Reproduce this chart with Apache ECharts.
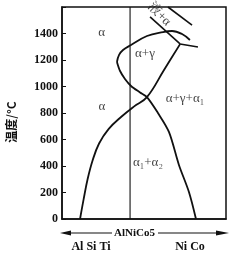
<!DOCTYPE html>
<html><head><meta charset="utf-8">
<script src="https://cdn.jsdelivr.net/npm/echarts@6/dist/echarts.min.js"></script>
<style>html,body{margin:0;padding:0;background:#fff}#c{width:252px;height:264px}</style>
</head><body><div id="c"></div>
<script>
// Temperature axis (°C)
const yTicks = [0, 200, 400, 600, 800, 1000, 1200, 1400];
const yMax = 1600;
// composition axis: 0 = Al Si Ti side, 100 = Ni Co side
const alloyX = 41.5; // AlNiCo5
// boundary curves [composition, temperature]
const curveAlphaLower = [[11,0],[13.2,150],[15.6,300],[18.6,440],[22.6,570],[28.5,680],[36,770],[44,850],[51.8,920],[62.2,1125],[72,1320]];
const curveMiscibility = [[33.5,1185],[35.4,1117],[38.4,1057],[42.1,1004],[47.6,955],[51.8,920],[58.5,800],[65.2,657],[71.3,408],[77.4,204],[81.7,0]];
const curveGammaTop = [[33.5,1185],[34.8,1238],[37.2,1275],[42.1,1313],[51.8,1381],[61.6,1411],[67.1,1419],[73.2,1396],[78,1351]];
const curveSolidus = [[53.7,1525],[72,1321]];
const curveBranch = [[72,1321],[82.9,1298]];
const curveLiquidus = [[64.6,1600],[79.3,1464]];
// region labels
const regionNames = ['α', 'α', 'α+γ', 'α+γ+α₁', 'α₁+α₂', '液+α'];
const regionX = [24.2, 24.4, 50.6, 75, 52.4, 59.3];
const regionY = [1404, 845, 1245, 906, 423, 1545];
const regionRot = [0, 0, 0, 0, 0, -45];

const FONT = '"Liberation Serif", "Noto Serif CJK SC", "Noto Sans CJK SC", serif';
const chart = echarts.init(document.getElementById('c'), null, {renderer: 'canvas'});
const lineSeries = (data, smooth, w) => ({
  type: 'line', data, smooth, symbol: 'none', silent: true, animation: false,
  lineStyle: {color: '#111', width: w}
});
chart.setOption({
  animation: false,
  backgroundColor: '#fff',
  grid: {left: 62, right: 26, top: 7, bottom: 45, show: true, borderColor: '#111', borderWidth: 1.5, containLabel: false, outerBoundsMode: 'none'},
  xAxis: {type: 'value', min: 0, max: 100, axisLabel: {show: false}, axisTick: {show: false},
    splitLine: {show: false}, axisLine: {show: true, lineStyle: {color: '#111', width: 1.5}}},
  yAxis: {type: 'value', min: 0, max: yMax, interval: 200, splitLine: {show: false},
    axisLine: {show: true, lineStyle: {color: '#111', width: 1.5}},
    axisTick: {show: true, inside: true, length: 4, lineStyle: {color: '#111'}},
    axisLabel: {margin: 4, color: '#111', fontFamily: FONT, fontSize: 12, fontWeight: 'bold',
      formatter: v => yTicks.includes(v) ? String(v) : ''}},
  series: [
    lineSeries([[alloyX, 0], [alloyX, yMax]], false, 1.1),
    lineSeries(curveAlphaLower, 0.4, 1.8),
    lineSeries(curveMiscibility, 0.3, 1.8),
    lineSeries(curveGammaTop, 0.4, 1.8),
    lineSeries(curveSolidus, false, 1.6),
    lineSeries(curveBranch, false, 1.6),
    lineSeries(curveLiquidus, false, 1.6),
    {type: 'scatter', silent: true, symbolSize: 1, itemStyle: {color: 'rgba(0,0,0,0)'},
      data: regionNames.map((n, i) => ({name: n, value: [regionX[i], regionY[i]],
        label: {rotate: regionRot[i]}})),
      label: {show: true, position: 'inside', color: '#111', fontFamily: FONT, fontSize: 13,
        formatter: p => p.name}}
  ],
  graphic: [
    {type: 'text', x: 11, y: 122, rotation: Math.PI / 2,
      style: {text: '温度/°C', fill: '#111', font: 'bold 12px "Noto Sans CJK SC", sans-serif', align: 'center', verticalAlign: 'middle'}},
    {type: 'line', shape: {x1: 66, y1: 233, x2: 112, y2: 233}, style: {stroke: '#111', lineWidth: 1.2}},
    {type: 'polygon', shape: {points: [[60, 233], [71, 230.5], [71, 235.5]]}, style: {fill: '#111'}},
    {type: 'text', x: 114, y: 233, style: {text: 'AlNiCo5', fill: '#111', font: 'bold 11px "Liberation Serif", serif', align: 'left', verticalAlign: 'middle'}},
    {type: 'line', shape: {x1: 158, y1: 233, x2: 220, y2: 233}, style: {stroke: '#111', lineWidth: 1.2}},
    {type: 'polygon', shape: {points: [[229, 233], [216, 230.5], [216, 235.5]]}, style: {fill: '#111'}},
    {type: 'text', x: 91, y: 247, style: {text: 'Al Si Ti', fill: '#111', font: 'bold 12px "Liberation Serif", serif', align: 'center', verticalAlign: 'middle'}},
    {type: 'text', x: 190, y: 247, style: {text: 'Ni Co', fill: '#111', font: 'bold 12px "Liberation Serif", serif', align: 'center', verticalAlign: 'middle'}}
  ]
});
</script></body></html>
